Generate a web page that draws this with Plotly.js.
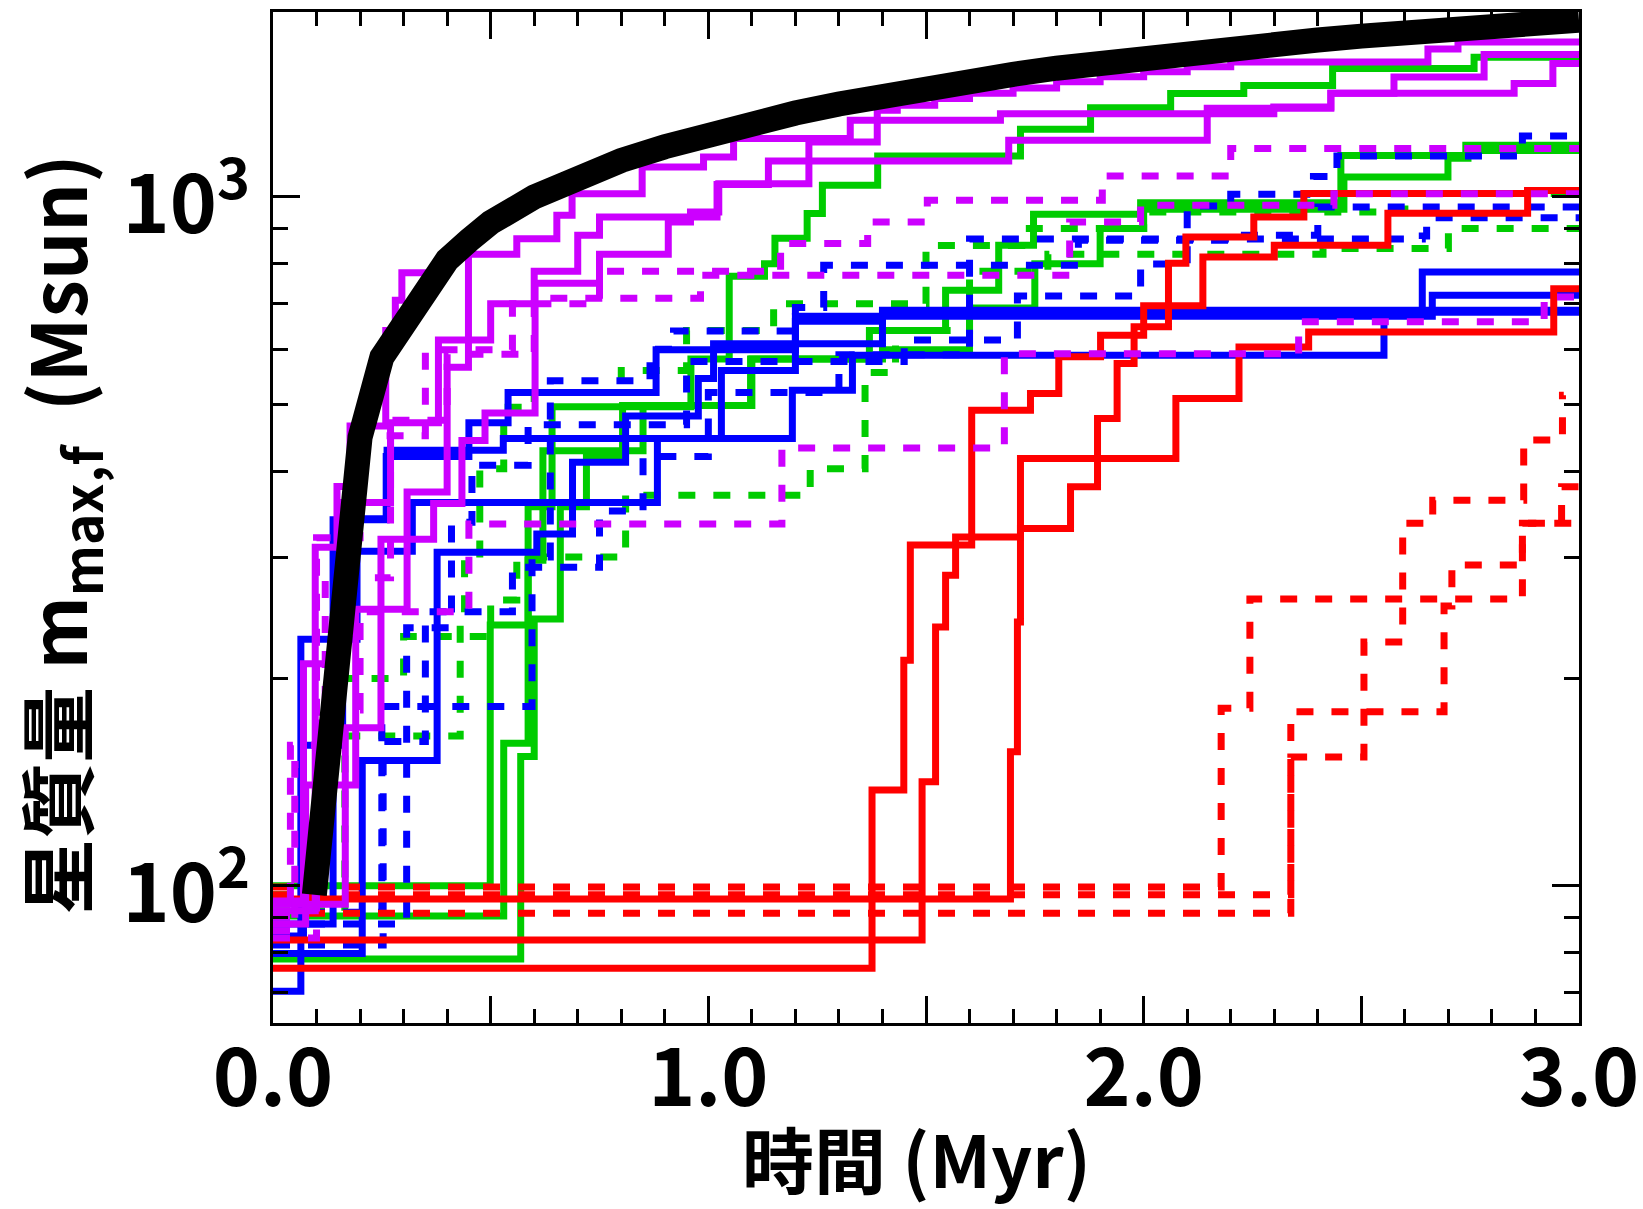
<!DOCTYPE html>
<html>
<head>
<meta charset="utf-8">
<script src="https://cdn.plot.ly/plotly-3.0.1.min.js"></script>
<style>html,body{margin:0;padding:0;background:#fff;}#chart{width:1643px;height:1209px;}</style>
</head>
<body>
<div id="chart"></div>
<script>
// ---- data: time (Myr) and most massive star mass (Msun), step lines ----
const blackT = [0.095,0.2,0.25,0.3,0.35,0.4,0.45,0.5,0.6,0.7,0.8,0.9,1.0,1.1,1.2,1.3,1.4,1.5,1.6,1.7,1.8,1.9,2.0,2.1,2.2,2.3,2.4,2.5,2.6,2.7,2.8,2.9,3.0];
const blackM = [97,448,585,656,745,810,865,918,1000,1069,1130,1183,1233,1280,1324,1365,1406,1442,1476,1507,1538,1567,1594,1620,1644,1668,1690,1712,1733,1752,1771,1789,1805];

// red
const redS1T = [0,1.694,1.710,1.717,1.832,1.894,1.939,1.978,2.057,2.097,2.253,2.368,2.882,3.0];
const redS1M = [95.7,156.5,241.6,330,379.5,477,573,648,801,875,935,1012,1022,1022];
const redS2T = [0,1.491,1.522,1.545,1.568,1.717,2.074,2.219,2.379,2.942,3.0];
const redS2M = [83.4,141.6,237.6,282.4,321,417,509.8,605.8,637,736,736];
const redS3T = [0,1.376,1.449,1.464,1.605,1.740,1.805,1.901,2.0,2.136,2.3,2.561,2.882,3.0];
const redS3M = [75.9,137.7,212.6,312.3,490,518.4,586,630,695,818,851,947,1022,1022];
const redD1T = [0,2.178,2.244,2.870,3.0];
const redD1M = [99.6,181,260.7,336,336];
const redD2T = [0,2.338,2.506,2.595,2.664,2.873,2.962,2.965];
const redD2M = [97.0,153.8,225.8,336,362.8,443.6,515.5,515.5];
const redD3T = [0,2.338,2.690,2.708,2.870,2.960,3.0];
const redD3M = [91.2,178.9,254.7,292.1,336,379.5,379.5];

// green
const grnS1T = [0,0.499,0.586,0.641,0.96,1.048,1.129,1.153,1.227,1.262,1.389,1.717,1.878,2.062,2.23,2.434,2.759,3.0];
const grnS1M = [100,239,355,496,582,767,800,871,946,1040,1147,1254,1348,1413,1452,1537,1596,1596];
const grnS2T = [0,0.53,0.586,0.62,0.85,1.1,1.37,1.545,1.667,1.747,1.993,2.453,2.74,3.0];
const grnS2M = [90.4,161,297,428,498,582,640,732,851,944,981,1149,1189,1189];
const grnS3T = [0,0.569,0.60,0.66,0.72,0.803,1.097,1.4,1.6,1.75,1.9,2.0,2.46,2.699,2.745,3.0];
const grnS3M = [78.3,154,244,355,420,498,582,600,690,800,900,960,1069,1138,1168,1168];
const grnD1T = [0,0.1,0.13,0.3,0.5,0.56,0.81,1.234,1.36,1.43,1.6,1.78,2.412,2.70,3.0];
const grnD1M = [97,130,200,230,260,300,369,403,556,640,780,826,842,900,900];
const grnD2T = [0,0.165,0.43,0.44,0.475,0.53,0.6,0.8,0.95,1.15,1.5,1.72,2.0,2.6,3.0];
const grnD2M = [92,165,243,297,403,495,520,560,640,700,850,900,951,1012,1012];

// blue
const bluS1T = [0,0.064,0.193,0.262,0.529,1.193,1.331,2.552,3.0];
const bluS1M = [70.3,228,341,429,446,524,589,680,680];
const bluS2T = [0,0.205,0.377,0.606,0.688,0.810,0.977,1.012,1.400,2.64,3.0];
const bluS2M = [79.7,152,305,324,412,481,545,612,680,778,778];
const bluS3T = [0,0.07,0.16,0.32,0.883,1.03,1.2,2.663,3.0];
const bluS3M = [84.5,160,306,360,446,560,671,720,720];
const bluS4T = [0,0.138,0.26,0.45,0.54,0.88,1.2,1.4,3.0];
const bluS4M = [88,340,420,470,520,600,660,685,685];
const bluD1T = [0,0.307,0.41,0.457,0.586,0.95,1.45,1.71,1.993,2.1,2.2,2.39,2.444,2.87,3.0];
const bluD1M = [88,237,337,408,467,577,620,718,799,970,1009,1071,1147,1226,1226];
const bluD2T = [0,0.25,0.595,0.637,0.866,0.92,1.2,1.265,1.85,2.2,2.4,3.0];
const bluD2M = [91.5,182,300,541,601,639,691,796,865,880,967,967];
const bluD3T = [0,0.253,0.35,0.55,0.75,0.85,1.0,1.3,1.6,2.64,2.65,3.0];
const bluD3M = [82,162,250,290,350,420,520,590,869,878,933,933];

// purple
const purS1T = [0,0.097,0.147,0.177,0.259,0.281,0.296,0.36];
const purS1M = [92,310,380,465,640,708,776,776];
const purS2T = [0,0.075,0.19,0.308,0.40,0.449,0.56,0.652,0.687,0.848,0.989,1.058,1.326,1.671,2.146,2.299,2.43,2.851,2.94,3.0];
const purS2M = [88,140,252,373,566,826,870,941,1011,1105,1143,1216,1292,1321,1345,1351,1414,1462,1563,1563];
const purS3T = [0,0.166,0.248,0.369,0.434,0.487,0.602,0.75,0.908,0.959,1.024,1.231,1.388,1.434,1.52,1.6,1.7,1.8,1.9,2.0,2.1,2.2,2.653,2.722,3.0];
const purS3M = [94,169.6,318.6,359,443,485.6,749.5,826,920,951,1045,1202,1336,1359,1390,1415,1440,1470,1495,1520,1545,1570,1640,1679,1679];
const purS4T = [0,0.07,0.16,0.27,0.38,0.5,0.6,0.7,0.75,1.02,1.138,1.69,2.146,2.299,2.43,2.575,2.782,3.0];
const purS4M = [95,210,360,470,620,700,780,880,935,1043,1128,1209,1321,1345,1414,1493,1610,1610];
const purD1T = [0,0.04,0.1,0.2,0.35,0.55,0.75,1.166,1.366,1.503,1.905,2.2,3.0];
const purD1M = [90,160,320,450,600,700,780,856,920,989,1073,1176,1176];
const purD2T = [0,0.05,0.12,0.27,0.4,0.6,0.982,1.83,1.993,2.437,3.0];
const purD2M = [86,150,280,474,591,713,770,920,973,1011,1011];
const purD3T = [0,0.1,0.2,0.45,1.169,1.68,2.356,2.92,3.0];
const purD3M = [84,180,250,335,432,592,659,716,716];

const xTickVals = [0,0.5,1,1.5,2,2.5,3];
const xTickText = ['0.0','','1.0','','2.0','','3.0'];
const yTickVals = [100,1000];
const yTickText = ['10<sup>2</sup>','10<sup>3</sup>'];
const yMinorVals = [70,80,90,200,300,400,500,600,700,800,900];
const xTitle = '時間 (Myr)';
const yTitle = '星質量 m<sub>max,f</sub>\u00a0\u00a0(Msun)';

// ---- drawing ----
const C = {red:'#ff0000', green:'#00cc00', blue:'#0000ff', purple:'#cc00ff'};
const DASH = '17px,18px';
function step(t, m, color, dashed){
  return {x:t, y:m, type:'scatter', mode:'lines', hoverinfo:'skip', showlegend:false,
    line:{shape:'hv', color:color, width:7, dash: dashed ? DASH : 'solid'}};
}
const traces = [
  step(grnS1T,grnS1M,C.green,false), step(grnS2T,grnS2M,C.green,false), step(grnS3T,grnS3M,C.green,false),
  step(grnD1T,grnD1M,C.green,true), step(grnD2T,grnD2M,C.green,true),
  step(bluS1T,bluS1M,C.blue,false), step(bluS2T,bluS2M,C.blue,false), step(bluS3T,bluS3M,C.blue,false), step(bluS4T,bluS4M,C.blue,false),
  step(bluD1T,bluD1M,C.blue,true), step(bluD2T,bluD2M,C.blue,true), step(bluD3T,bluD3M,C.blue,true),
  step(redS1T,redS1M,C.red,false), step(redS2T,redS2M,C.red,false), step(redS3T,redS3M,C.red,false),
  step(redD1T,redD1M,C.red,true), step(redD2T,redD2M,C.red,true), step(redD3T,redD3M,C.red,true),
  step(purS1T,purS1M,C.purple,false), step(purS2T,purS2M,C.purple,false), step(purS3T,purS3M,C.purple,false), step(purS4T,purS4M,C.purple,false),
  step(purD1T,purD1M,C.purple,true), step(purD2T,purD2M,C.purple,true), step(purD3T,purD3M,C.purple,true),
  {x:blackT, y:blackM, type:'scatter', mode:'lines', hoverinfo:'skip', showlegend:false, line:{color:'#000', width:25}}
];

const FONT = '"Noto Sans CJK JP", "Noto Sans", sans-serif';
const layout = {
  width:1643, height:1209,
  margin:{l:273, r:64, t:12, b:186},
  paper_bgcolor:'#fff', plot_bgcolor:'#fff',
  showlegend:false,
  xaxis:{
    range:[0,3], showgrid:false, zeroline:false,
    showline:true, linecolor:'#000', linewidth:3, mirror:'ticks',
    tickmode:'array', tickvals:xTickVals, ticktext:xTickText,
    ticks:'inside', ticklen:27, tickwidth:3, tickcolor:'#000',
    minor:{tickmode:'linear', tick0:0, dtick:0.1, ticks:'inside', ticklen:14, tickwidth:3, tickcolor:'#000', showgrid:false},
    tickfont:{family:FONT, size:80, color:'#000', weight:'bold'},
    ticklabelstandoff:-16
  },
  yaxis:{
    type:'log', range:[Math.log10(63.2), Math.log10(1856)], showgrid:false, zeroline:false,
    showline:true, linecolor:'#000', linewidth:3, mirror:'ticks',
    tickmode:'array', tickvals:yTickVals, ticktext:yTickText,
    ticks:'inside', ticklen:27, tickwidth:3, tickcolor:'#000',
    minor:{tickmode:'array', tickvals:yMinorVals, ticks:'inside', ticklen:15, tickwidth:3, tickcolor:'#000', showgrid:false},
    tickfont:{family:FONT, size:80, color:'#000', weight:'bold'},
    ticklabelstandoff:4, ticklabelshift:8
  },
  annotations:[
    {text:xTitle, xref:'paper', yref:'paper', x:0.4931, y:-0.132,
     xanchor:'center', yanchor:'middle', showarrow:false,
     font:{family:FONT, size:72, color:'#000', weight:'bold'}},
    {text:yTitle, xref:'paper', yref:'paper', x:-0.1640, y:0.4837,
     xanchor:'center', yanchor:'middle', textangle:-90, showarrow:false,
     font:{family:FONT, size:76, color:'#000', weight:'bold'}}
  ]
};
Plotly.newPlot('chart', traces, layout, {staticPlot:true, displayModeBar:false});
</script>
</body>
</html>
